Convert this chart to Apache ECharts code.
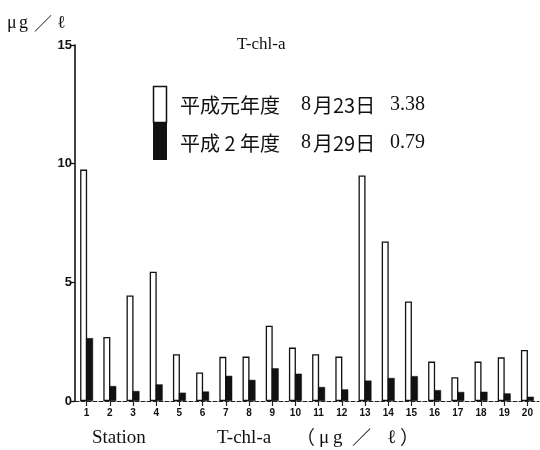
<!DOCTYPE html>
<html>
<head>
<meta charset="utf-8">
<script src="https://cdn.jsdelivr.net/npm/echarts@6/dist/echarts.min.js"></script>
<style>
  html, body { margin: 0; padding: 0; background: #fff; }
  #chart { width: 540px; height: 450px; }
</style>
</head>
<body>
<div id="chart"></div>
<script>
// Station numbers along the x axis
const stations = ['1','2','3','4','5','6','7','8','9','10','11','12','13','14','15','16','17','18','19','20'];
// T-chl-a (μg/ℓ), survey of 平成元年度 8月23日
const chlH1 = [9.75, 2.7, 4.45, 5.45, 1.97, 1.2, 1.86, 1.87, 3.17, 2.25, 1.97, 1.87, 9.5, 6.72, 4.19, 1.66, 1.0, 1.66, 1.84, 2.15];
// T-chl-a (μg/ℓ), survey of 平成2年度 8月29日
const chlH2 = [2.65, 0.63, 0.42, 0.7, 0.35, 0.4, 1.06, 0.89, 1.38, 1.15, 0.59, 0.49, 0.86, 0.97, 1.05, 0.46, 0.38, 0.39, 0.32, 0.18];
// Legend rows: survey year, date, mean value
const legendYears = ['平成元年度', '平成 2 年度'];
const legendMonths = ['8', '8'];
const legendDays = ['月23日', '月29日'];
const legendMeans = ['3.38', '0.79'];
// Y axis range
const yMin = 0, yMax = 15, yStep = 5;

const serif = '"Liberation Serif", "DejaVu Serif", serif';
const cjk = '"Noto Sans CJK JP", "Noto Sans CJK SC", sans-serif';
const sans = '"Liberation Sans", Arial, sans-serif';

const chart = echarts.init(document.getElementById('chart'), null, { renderer: 'canvas' });

// plain text placed by its left edge and vertical middle
function txt(x, y, text, size, font) {
  return {
    type: 'text', x: x, y: y,
    style: { text: text, fontSize: size, fontFamily: font, fill: '#111', align: 'left', verticalAlign: 'middle' }
  };
}

const graphics = [
  // unit label above the y axis
  txt(7, 23, 'μ', 18, serif),
  txt(19, 23, 'g', 18, serif),
  txt(34, 23, '／', 18, cjk),
  txt(57, 23, 'ℓ', 18, serif),
  // title
  txt(237, 45, 'T-chl-a', 17, serif),
  // legend swatch: open bar over filled bar
  { type: 'rect', shape: { x: 153.5, y: 86.5, width: 13, height: 36 },
    style: { fill: '#fff', stroke: '#111', lineWidth: 1.5 } },
  { type: 'rect', shape: { x: 153, y: 122, width: 14, height: 38 },
    style: { fill: '#111' } },
  // x axis caption
  txt(92, 438, 'Station', 19, serif),
  txt(217, 438, 'T-chl-a', 19, serif),
  txt(296, 438, '（', 19, cjk),
  txt(319, 438, 'μ', 19, serif),
  txt(333, 438, 'g', 19, serif),
  txt(352, 438, '／', 19, cjk),
  txt(387, 438, 'ℓ', 19, serif),
  txt(400, 438, '）', 19, cjk)
];
const rowY = [105, 143];
for (let i = 0; i < 2; i++) {
  graphics.push(txt(180, rowY[i], legendYears[i], 20, cjk));
  graphics.push(txt(301, rowY[i], legendMonths[i], 20, serif));
  graphics.push(txt(313, rowY[i], legendDays[i], 20, cjk));
  graphics.push(txt(390, rowY[i], legendMeans[i], 20, serif));
}

chart.setOption({
  animation: false,
  backgroundColor: '#fff',
  grid: { left: 75, top: 45, width: 464, height: 356, containLabel: false },
  xAxis: {
    type: 'category',
    data: stations,
    boundaryGap: true,
    axisLine: { lineStyle: { color: '#222', width: 1, type: [4, 2] } },
    axisTick: { show: true, alignWithLabel: true, length: 5, lineStyle: { color: '#222', width: 1.2 } },
    axisLabel: { color: '#111', fontSize: 10, fontWeight: 'bold', fontFamily: sans, margin: 7 },
    splitLine: { show: false }
  },
  yAxis: {
    type: 'value',
    min: yMin, max: yMax, interval: yStep,
    axisLine: { show: true, lineStyle: { color: '#111', width: 1.6 } },
    axisTick: { show: true, length: 5, lineStyle: { color: '#111', width: 1.3 } },
    axisLabel: { color: '#111', fontSize: 13, fontWeight: 'bold', fontFamily: sans, margin: 3 },
    splitLine: { show: false }
  },
  series: [
    {
      name: '平成元年度', type: 'bar', data: chlH1,
      barWidth: 7, barGap: '-15%',
      itemStyle: { color: '#fff', borderColor: '#111', borderWidth: 1.3 }
    },
    {
      name: '平成2年度', type: 'bar', data: chlH2,
      barWidth: 7,
      itemStyle: { color: '#111', borderColor: '#111', borderWidth: 0.5 }
    }
  ],
  graphic: graphics
});
</script>
</body>
</html>
